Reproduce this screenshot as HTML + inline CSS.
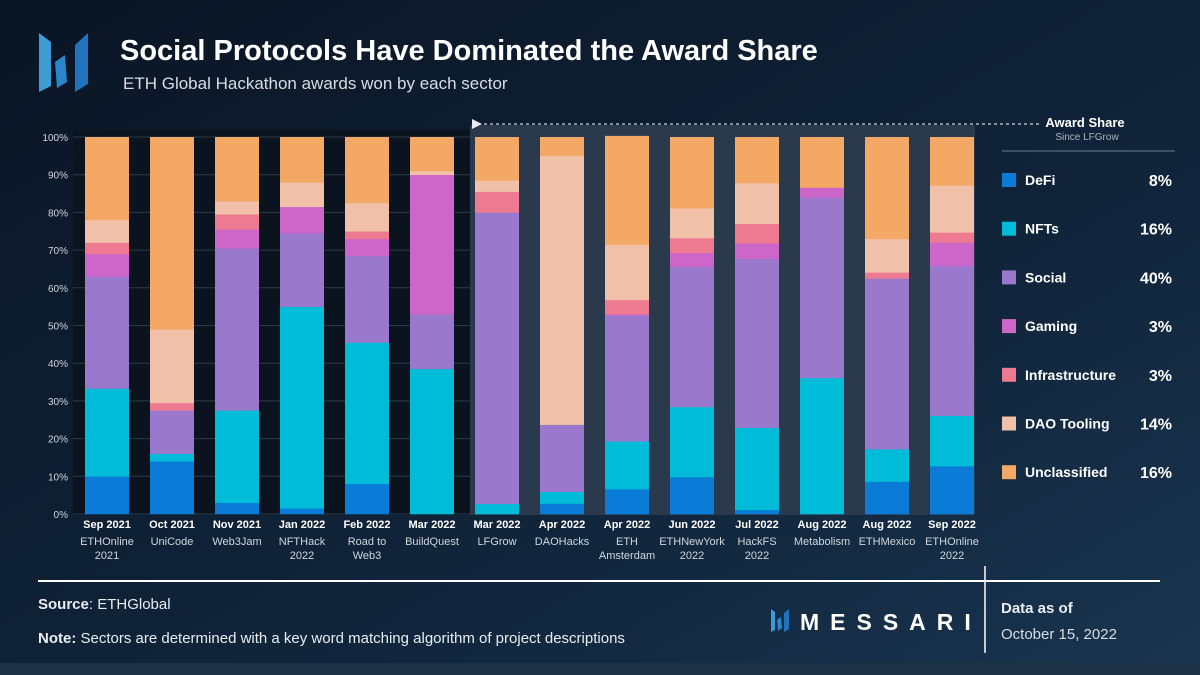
<!DOCTYPE html>
<html><head><meta charset="utf-8">
<style>
html,body{margin:0;padding:0;width:1200px;height:675px;overflow:hidden;background:#0d1b2b;}
svg{display:block;font-family:"Liberation Sans",sans-serif;}
</style></head>
<body>
<svg id="chart" width="1200" height="675" viewBox="0 0 1200 675">
<defs>
<linearGradient id="bg" x1="0" y1="0" x2="1" y2="1">
<stop offset="0" stop-color="#0a1524"/><stop offset="0.6" stop-color="#10243a"/><stop offset="1" stop-color="#1a3550"/>
</linearGradient>
</defs>
<rect x="0" y="0" width="1200" height="675" fill="url(#bg)"/>
<rect x="0" y="663" width="1200" height="12" fill="#1c3146"/>
<rect x="73" y="130" width="397" height="385" fill="#0b141e"/>
<g>
<polygon points="39,33 51,42 51,86 39,92" fill="#3f9bd6"/>
<polygon points="55,62 65,55 67,82 57,88" fill="#2a86cc"/>
<polygon points="75,45 88,33 88,84 75,92" fill="#1f74bd"/>
</g>
<text x="120" y="60" font-size="29" font-weight="bold" fill="#ffffff">Social Protocols Have Dominated the Award Share</text>
<text x="123" y="89" font-size="17" fill="#d7dde4">ETH Global Hackathon awards won by each sector</text>
<rect x="470" y="125" width="505" height="390" fill="#2a3a4c"/>
<line x1="478" y1="124" x2="1040" y2="124" stroke="#c9d2dc" stroke-width="1.2" stroke-dasharray="3,3"/>
<polygon points="472,119 482,124 472,129" fill="#e6ebf0"/>
<g id="grid"></g>
<g id="bars"></g>
<g id="xlabels"></g>
<g>
<text x="1085" y="127" text-anchor="middle" font-size="13" font-weight="bold" fill="#fff">Award Share</text>
<text x="1087" y="140" text-anchor="middle" font-size="10" fill="#aab6c2">Since LFGrow</text>
<line x1="1002" y1="151" x2="1175" y2="151" stroke="#6b7c8e" stroke-width="1"/>
<g id="legendItems"></g>
</g>
<line x1="38" y1="581" x2="1160" y2="581" stroke="#ffffff" stroke-width="2"/>
<line x1="985" y1="566" x2="985" y2="653" stroke="#ffffff" stroke-width="1.5"/>
<text x="38" y="609" font-size="15" fill="#e8edf2"><tspan font-weight="bold">Source</tspan>: ETHGlobal</text>
<text x="38" y="643" font-size="15" fill="#e8edf2"><tspan font-weight="bold">Note:</tspan> Sectors are determined with a key word matching algorithm of project descriptions</text>
<g>
<polygon points="771,609 775,612 775,630 771,632" fill="#3f9bd6"/>
<polygon points="777,620 781,617 782,628 778,631" fill="#2a86cc"/>
<polygon points="784,613 789,609 789,629 784,632" fill="#1f74bd"/>
<text x="800" y="630" font-size="23" font-weight="bold" fill="#fff" letter-spacing="11">MESSARI</text>
</g>
<text x="1001" y="613" font-size="15" font-weight="bold" fill="#e8edf2">Data as of</text>
<text x="1001" y="639" font-size="15" fill="#d7dde4">October 15, 2022</text>
</svg>
<script>
const sectors = ["DeFi","NFTs","Social","Gaming","Infrastructure","DAO Tooling","Unclassified"];
const colors = ["#0a7bd6","#00bcd8","#9a78cc","#cc66c8","#ee7a92","#f0c0a8","#f4a866"];
const dates = ["Sep 2021","Oct 2021","Nov 2021","Jan 2022","Feb 2022","Mar 2022","Mar 2022","Apr 2022","Apr 2022","Jun 2022","Jul 2022","Aug 2022","Aug 2022","Sep 2022"];
const events = [["ETHOnline","2021"],["UniCode"],["Web3Jam"],["NFTHack","2022"],["Road to","Web3"],["BuildQuest"],["LFGrow"],["DAOHacks"],["ETH","Amsterdam"],["ETHNewYork","2022"],["HackFS","2022"],["Metabolism"],["ETHMexico"],["ETHOnline","2022"]];
const defi   = [10,14,3,1.5,8,0,0,2.8,6.6,9.8,1.1,0,8.6,12.7];
const nfts   = [23.3,2,24.5,53.5,37.5,38.5,2.7,3.1,12.7,18.6,21.8,36.1,8.6,13.4];
const social = [29.7,11.5,43,19.5,23,14.5,77.3,17.8,33.4,37.2,44.8,47.9,45.3,39.7];
const gaming = [6,0,5,7,4.5,37,0,0,0.3,3.7,4.1,2.6,0,6.2];
const infra  = [3,2,4,0,2,0,5.5,0,3.8,3.9,5.2,0,1.6,2.7];
const dao    = [6,19.5,3.5,6.5,7.5,1,3,71.3,14.7,7.9,10.8,0,8.9,12.5];
const unclassified = [22,51,17,12,17.5,9,11.5,5,28.8,18.9,12.2,13.4,27,12.8];
const yTicks = [0,10,20,30,40,50,60,70,80,90,100];
const shareLabels = ["8%","16%","40%","3%","3%","14%","16%"];

const NS="http://www.w3.org/2000/svg";
const y0=514,y1=137,xStart=85,step=65,bw=44;
const y=v=>y0-(v/100)*(y0-y1);
const x=i=>xStart+i*step;
function mk(tag,attrs,parent){const e=document.createElementNS(NS,tag);for(const k in attrs)e.setAttribute(k,attrs[k]);parent.appendChild(e);return e;}
const grid=document.getElementById('grid');
yTicks.forEach(t=>{
  const l=mk('line',{x1:73,x2:975,y1:y(t),y2:y(t),stroke:'#2a3a4b','stroke-width':1},grid);
  
  
  const tx=mk('text',{x:68,y:y(t)+4,'text-anchor':'end','font-size':10,fill:'#d0d7de'},grid);
  tx.textContent=t+'%';
  
  
});
const series=[defi,nfts,social,gaming,infra,dao,unclassified];
const bars=document.getElementById('bars');
dates.forEach((d,i)=>{
  let acc=0;
  series.forEach((s,k)=>{
    const v=s[i]; if(v<=0){return;}
    const r=mk('rect',{x:x(i),y:y(acc+v),width:bw,height:y(acc)-y(acc+v)+0.3,fill:colors[k]},bars);
    
    
    acc+=v;
  });
});
const xl=document.getElementById('xlabels');
dates.forEach((d,i)=>{
  const cx=x(i)+bw/2;
  const t=mk('text',{x:cx,y:528,'text-anchor':'middle','font-size':11,'font-weight':'bold',fill:'#fff'},xl);
  t.textContent=d;
  
  
  events[i].forEach((ln,j)=>{
    const e=mk('text',{x:cx,y:545+j*14,'text-anchor':'middle','font-size':11,fill:'#d0d7de'},xl);
    e.textContent=ln;
    
    
  });
});
const li=document.getElementById('legendItems');
sectors.forEach((s,k)=>{
  const yy=180+k*48.7;
  const sw=mk('rect',{x:1002,y:yy-7,width:14,height:14,fill:colors[k]},li);
  
  
  const t=mk('text',{x:1025,y:yy+5,'font-size':14,'font-weight':'bold',fill:'#fff'},li);
  t.textContent=s;
  
  
  const p=mk('text',{x:1172,y:yy+6,'text-anchor':'end','font-size':16,'font-weight':'bold',fill:'#fff'},li);
  p.textContent=shareLabels[k];
  
  
});
</script>
</body></html>
